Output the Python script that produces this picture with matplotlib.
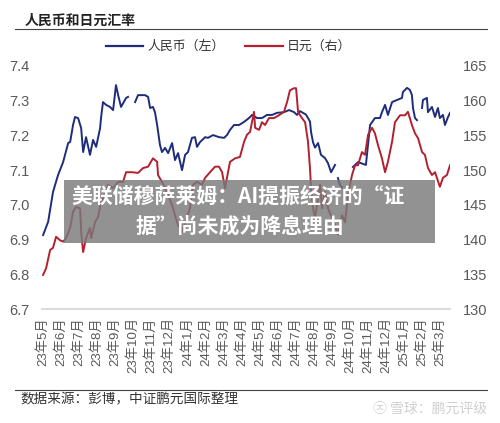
import numpy as np
import matplotlib
matplotlib.use("Agg")
import matplotlib.pyplot as plt
from matplotlib.patches import Rectangle
from matplotlib.lines import Line2D

plt.rcParams['font.family'] = ['Liberation Sans', 'Noto Sans CJK SC', 'DejaVu Sans']

nan = float('nan')

# month index: 0 = 2023-05, 22 = 2025-03
month_labels = ["23年5月", "23年6月", "23年7月", "23年8月", "23年9月", "23年10月",
                "23年11月", "23年12月", "24年1月", "24年2月", "24年3月", "24年4月",
                "24年5月", "24年6月", "24年7月", "24年8月", "24年9月", "24年10月",
                "24年11月", "24年12月", "25年1月", "25年2月", "25年3月"]

cny_t = [0.00, 0.28, 0.55, 0.83, 1.11, 1.39, 1.50, 1.66, 1.77, 1.94, 2.11, 2.22,
         2.38, 2.60, 2.77, 2.94, 3.16, 3.21, 3.32, 3.49, 3.71, 3.88, 4.04, 4.16,
         4.32, 4.60, 4.71, 4.90, 5.10, 5.26, 5.37, 5.65, 5.82, 5.93, 6.09, 6.20,
         6.32, 6.48, 6.59, 6.76, 6.93, 7.15, 7.31, 7.48, 7.70, 7.87, 8.03, 8.25,
         8.42, 8.53, 8.70, 8.98, 9.14, 9.42, 9.75, 10.03, 10.19, 10.36, 10.58,
         10.86, 11.14, 11.41, 11.58, 11.86, 12.13, 12.41, 12.69, 12.96, 13.35,
         13.63, 13.91, 14.07, 14.24, 14.40, 14.57, 14.79, 14.85, 14.96, 15.07,
         15.24, 15.40, 15.62, 15.79, 15.96, 16.18, 16.26, 16.34, 16.45, 16.57,
         16.90, 17.17, 17.45, 17.62, 17.89, 18.12, 18.39, 18.67, 18.78, 18.95,
         19.11, 19.34, 19.61, 19.89, 19.94, 20.17, 20.33, 20.44, 20.50, 20.61,
         20.72, 20.86, 21.00, 21.05, 21.27, 21.33, 21.55, 21.72, 21.88, 21.99,
         22.16, 22.27, 22.44, 22.55]
cny_v = [6.913, 6.951, 7.037, 7.086, 7.123, 7.178, 7.181, 7.230, 7.253, 7.250,
         7.221, 7.152, 7.195, 7.144, 7.187, 7.167, 7.221, 7.250, 7.296, 7.288,
         7.282, 7.273, 7.345, 7.316, 7.282, 7.308, 7.311, nan, 7.296, 7.316,
         7.316, 7.316, 7.311, 7.279, 7.282, 7.267, 7.230, 7.172, 7.152, 7.164,
         7.149, 7.178, 7.129, 7.149, 7.100, 7.144, 7.152, 7.193, 7.195, 7.167,
         7.181, 7.195, 7.193, 7.201, 7.195, 7.193, 7.201, 7.216, 7.230, 7.230,
         7.239, 7.250, 7.259, 7.250, 7.250, 7.259, 7.259, 7.265, 7.267, 7.273,
         7.267, 7.259, 7.270, 7.265, 7.260, 7.240, 7.210, 7.180, 7.165, 7.178,
         7.144, 7.135, 7.120, 7.094, 7.115, nan, 7.077, 7.057, 7.050, nan,
         7.109, 7.123, 7.120, 7.115, 7.230, 7.250, 7.250, 7.267, 7.288, 7.259,
         7.296, 7.302, 7.308, 7.325, 7.337, 7.331, 7.316, 7.279, 7.250, 7.244,
         nan, 7.279, 7.302, 7.308, 7.267, 7.282, 7.253, 7.279, 7.250, 7.259,
         7.230, 7.253, 7.265]

jpy_t = [0.00, 0.17, 0.39, 0.55, 0.72, 0.94, 1.11, 1.27, 1.50, 1.66, 1.83, 2.05,
         2.11, 2.22, 2.38, 2.60, 2.66, 2.88, 3.05, 3.21, 3.43, 3.60, 3.88, 4.16,
         4.43, 4.60, 4.93, 5.26, 5.54, 5.82, 6.09, 6.32, 6.37, 6.59, 6.76, 6.93,
         7.15, 7.31, 7.48, 7.70, 7.87, 8.14, 8.31, 8.53, 8.81, 8.98, 9.25, 9.53,
         9.75, 9.92, 10.08, 10.19, 10.36, 10.64, 10.91, 11.14, 11.30, 11.47,
         11.69, 11.75, 11.97, 12.13, 12.30, 12.52, 12.80, 13.07, 13.35, 13.52,
         13.68, 13.91, 14.02, 14.13, 14.29, 14.52, 14.68, 14.79, 14.85, 14.96,
         15.07, 15.35, 15.46, 15.62, 15.79, 16.01, 16.18, 16.29, 16.34, 16.57,
         16.73, 16.90, 17.12, 17.29, 17.45, 17.67, 17.84, 18.01, 18.23, 18.39,
         18.56, 18.78, 18.95, 19.11, 19.34, 19.50, 19.78, 20.06, 20.22, 20.44,
         20.61, 20.78, 21.00, 21.16, 21.33, 21.55, 21.72, 21.99, 22.16, 22.38,
         22.55]
jpy_v = [134.9, 135.9, 138.5, 138.8, 140.4, 139.9, 139.7, 140.2, 141.7, 144.0,
         144.7, 144.5, 141.1, 138.2, 140.2, 141.7, 140.2, 142.5, 143.3, 145.4,
         146.4, 147.9, 147.4, 148.3, 148.3, 149.7, 149.7, 149.6, 150.3, 150.5,
         151.7, 151.2, 149.3, 148.3, 147.4, 146.4, 145.0, 143.5, 142.1, 141.1,
         142.5, 144.5, 147.9, 148.3, 147.9, 148.9, 149.7, 150.5, 150.5, 149.7,
         147.4, 148.9, 151.2, 151.7, 151.9, 154.1, 155.1, 155.5, 158.4, 156.1,
         155.8, 156.9, 156.5, 157.5, 157.5, 157.9, 158.4, 159.8, 161.5, 161.8,
         161.8, 158.4, 157.7, 156.9, 154.1, 150.3, 147.4, 144.5, 143.1, 147.9,
         144.5, 146.9, 144.5, 143.1, 142.1, 141.1, 140.7, 143.5, 142.5, 146.4,
         149.3, 150.7, 150.7, 152.6, 152.2, 155.1, 156.1, 155.3, 153.6, 151.7,
         149.7, 151.2, 154.1, 156.9, 157.9, 157.9, 158.4, 156.5, 155.3, 154.6,
         152.6, 152.2, 150.3, 149.3, 149.7, 147.6, 148.9, 149.3, 150.7]

cny_color = '#1e2c7c'
jpy_color = '#b3202f'
tick_color = '#595959'

fig = plt.figure(figsize=(5.0, 4.23), dpi=100)
ax = fig.add_axes([0.084, 0.2695, 0.816, 0.5745])
ax2 = ax.twinx()

ax.plot(cny_t, cny_v, color=cny_color, lw=1.4, zorder=3)
ax2.plot(jpy_t, jpy_v, color=jpy_color, lw=1.4, zorder=2)

ax.set_xlim(-0.06, 22.55)
ax.set_ylim(6.7, 7.4)
ax2.set_ylim(130, 165)
ax.set_yticks(np.arange(6.7, 7.41, 0.1))
ax.set_yticklabels([f"{v:.1f}" for v in np.arange(6.7, 7.41, 0.1)])
ax2.set_yticks(np.arange(130, 166, 5))

ax.set_xticks(range(len(month_labels)))
ax.set_xticklabels(month_labels, rotation=90, va='top', ha='center')

for a in (ax, ax2):
    for s in ('left', 'right', 'top'):
        a.spines[s].set_visible(False)
    a.spines['bottom'].set_color('#d9d9d9')
    a.spines['bottom'].set_linewidth(1.2)
    a.tick_params(length=0, colors=tick_color, labelsize=10.5)
ax.tick_params(axis='y', pad=9)
ax2.tick_params(axis='y', pad=9)
ax.tick_params(axis='x', labelsize=9.5, pad=6)

# title & rules
fig.text(0.05, 0.952, "人民币和日元汇率", fontsize=10, fontweight='bold',
         color='#222222', va='center', ha='left')
fig.add_artist(Line2D([0.03, 0.974], [0.9314, 0.9314], color='#444444', lw=0.8))
fig.add_artist(Line2D([0.03, 0.974], [0.078, 0.078], color='#444444', lw=0.8))
fig.text(0.04, 0.056, "数据来源：彭博，中证鹏元国际整理", fontsize=9.8,
         color='#333333', va='center', ha='left')
fig.text(0.974, 0.033, "㉨ 雪球：鹏元评级", fontsize=10, color='#d0d0d0',
         va='center', ha='right', family=['Noto Sans CJK SC', 'DejaVu Sans'])

handles = [Line2D([], [], color=cny_color, lw=1.6), Line2D([], [], color=jpy_color, lw=1.6)]
fig.legend(handles, ["人民币（左）", "日元（右）"], loc='center', ncol=2,
           bbox_to_anchor=(0.457, 0.889), frameon=False, fontsize=9.3,
           handlelength=2.9, handletextpad=0.3, columnspacing=1.6,
           labelcolor='#333333')

# overlay banner
fig.add_artist(Rectangle((0.128, 0.4255), 0.742, 0.149, transform=fig.transFigure,
                         facecolor='#7a7a7a', alpha=0.82, edgecolor='none', zorder=10))
fig.text(0.477, 0.535, "美联储穆萨莱姆：AI提振经济的“证", fontsize=15, fontweight='bold',
         color='white', ha='center', va='center', zorder=11,
         family=['Noto Sans CJK SC', 'DejaVu Sans'])
fig.text(0.48, 0.463, "据”尚未成为降息理由", fontsize=15, fontweight='bold',
         color='white', ha='center', va='center', zorder=11,
         family=['Noto Sans CJK SC', 'DejaVu Sans'])

fig.savefig("out.png", dpi=100)
